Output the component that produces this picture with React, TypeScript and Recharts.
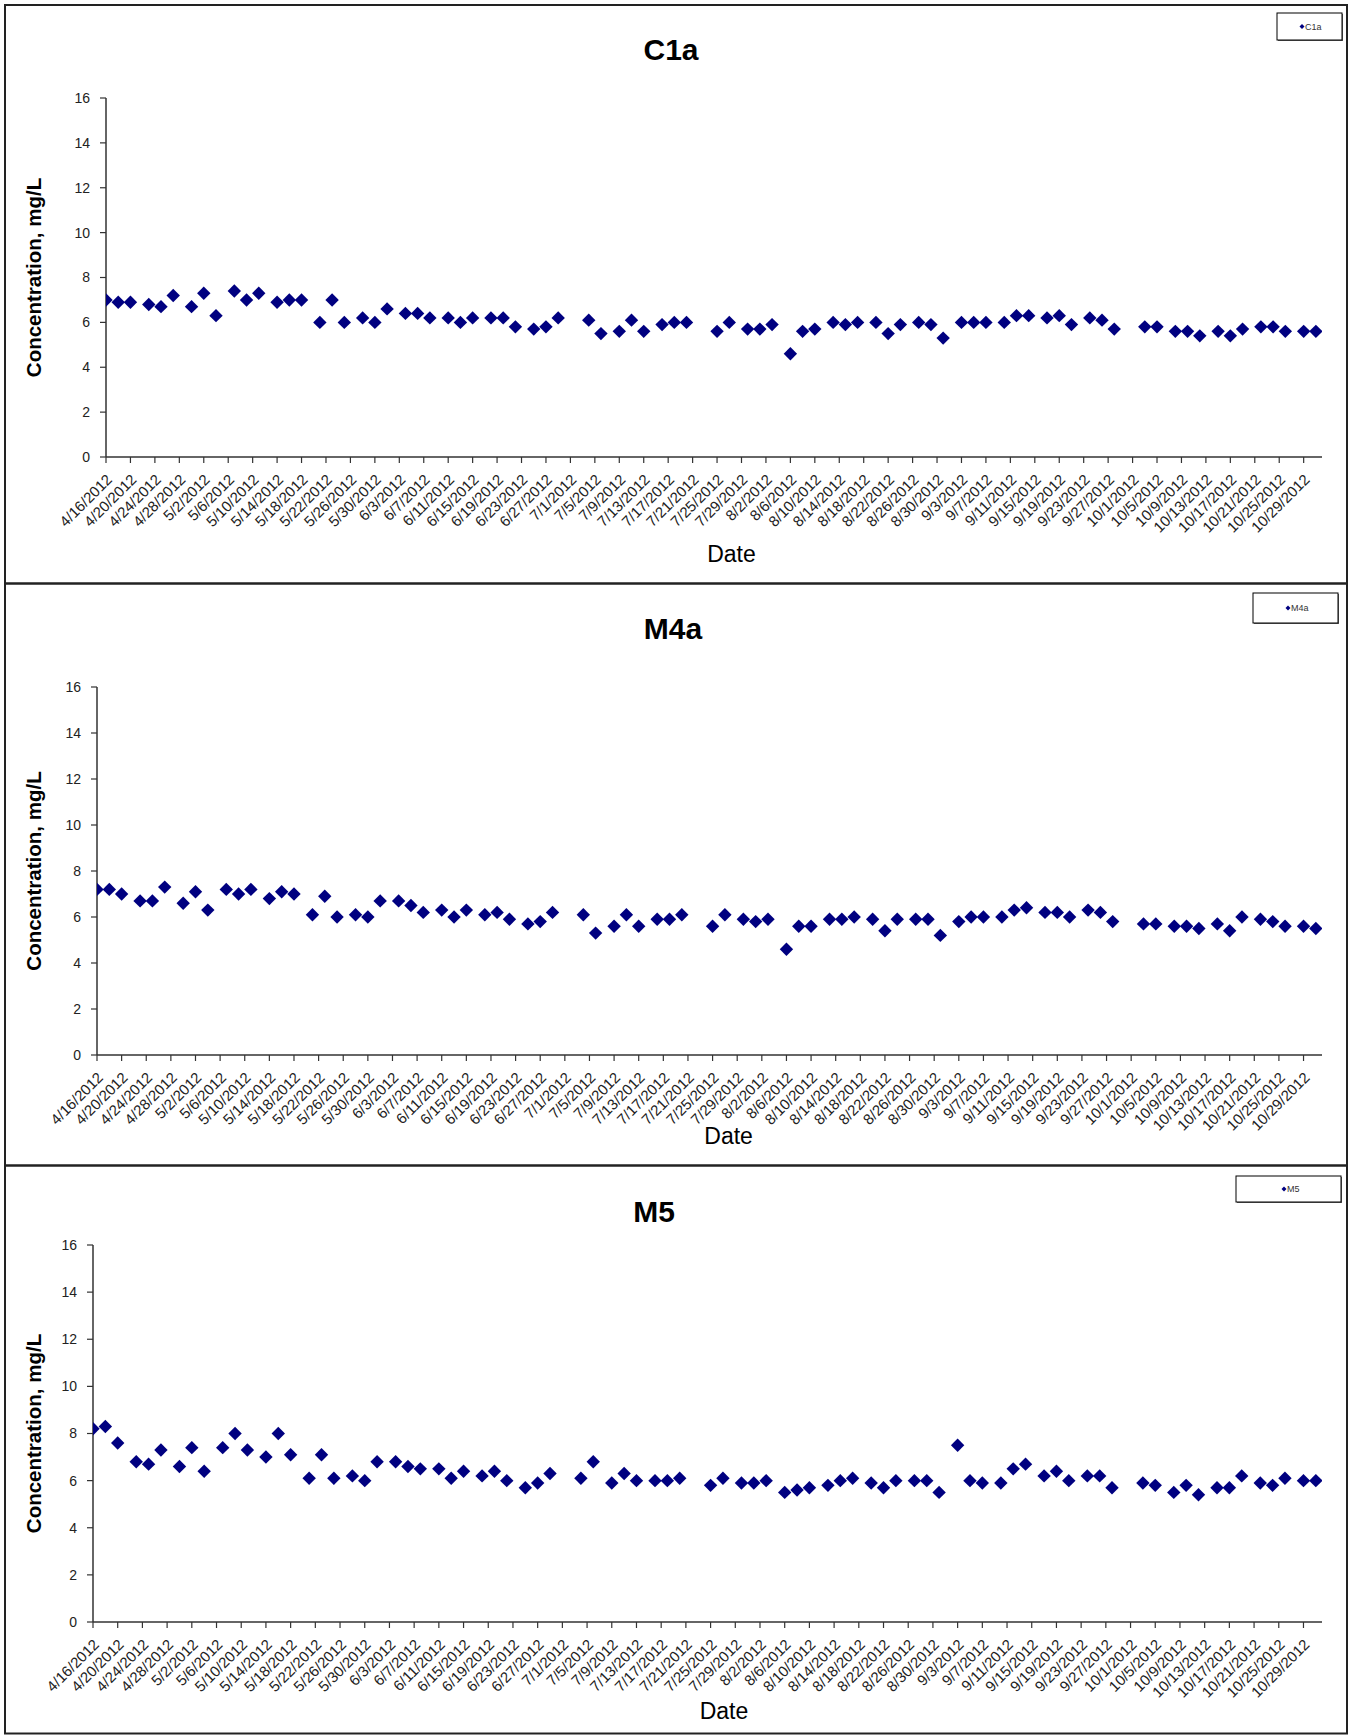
import React from "react";
import { ScatterChart, Scatter, XAxis, YAxis } from "recharts";

// ---- data ----
const sampleDates = [
  "4/16/2012", "4/18/2012", "4/20/2012", "4/23/2012", "4/25/2012", "4/27/2012",
  "4/30/2012", "5/2/2012", "5/4/2012", "5/7/2012", "5/9/2012", "5/11/2012",
  "5/14/2012", "5/16/2012", "5/18/2012", "5/21/2012", "5/23/2012", "5/25/2012",
  "5/28/2012", "5/30/2012", "6/1/2012", "6/4/2012", "6/6/2012", "6/8/2012",
  "6/11/2012", "6/13/2012", "6/15/2012", "6/18/2012", "6/20/2012", "6/22/2012",
  "6/25/2012", "6/27/2012", "6/29/2012", "7/4/2012", "7/6/2012", "7/9/2012",
  "7/11/2012", "7/13/2012", "7/16/2012", "7/18/2012", "7/20/2012", "7/25/2012",
  "7/27/2012", "7/30/2012", "8/1/2012", "8/3/2012", "8/6/2012", "8/8/2012",
  "8/10/2012", "8/13/2012", "8/15/2012", "8/17/2012", "8/20/2012", "8/22/2012",
  "8/24/2012", "8/27/2012", "8/29/2012", "8/31/2012", "9/3/2012", "9/5/2012",
  "9/7/2012", "9/10/2012", "9/12/2012", "9/14/2012", "9/17/2012", "9/19/2012",
  "9/21/2012", "9/24/2012", "9/26/2012", "9/28/2012", "10/3/2012", "10/5/2012",
  "10/8/2012", "10/10/2012", "10/12/2012", "10/15/2012", "10/17/2012", "10/19/2012",
  "10/22/2012", "10/24/2012", "10/26/2012", "10/29/2012", "10/31/2012",
];

const c1aValues = [
  7.0, 6.9, 6.9, 6.8, 6.7, 7.2, 6.7, 7.3, 6.3, 7.4, 7.0, 7.3,
  6.9, 7.0, 7.0, 6.0, 7.0, 6.0, 6.2, 6.0, 6.6, 6.4, 6.4, 6.2,
  6.2, 6.0, 6.2, 6.2, 6.2, 5.8, 5.7, 5.8, 6.2, 6.1, 5.5, 5.6,
  6.1, 5.6, 5.9, 6.0, 6.0, 5.6, 6.0, 5.7, 5.7, 5.9, 4.6, 5.6,
  5.7, 6.0, 5.9, 6.0, 6.0, 5.5, 5.9, 6.0, 5.9, 5.3, 6.0, 6.0,
  6.0, 6.0, 6.3, 6.3, 6.2, 6.3, 5.9, 6.2, 6.1, 5.7, 5.8, 5.8,
  5.6, 5.6, 5.4, 5.6, 5.4, 5.7, 5.8, 5.8, 5.6, 5.6, 5.6,
];

const m4aValues = [
  7.2, 7.2, 7.0, 6.7, 6.7, 7.3, 6.6, 7.1, 6.3, 7.2, 7.0, 7.2,
  6.8, 7.1, 7.0, 6.1, 6.9, 6.0, 6.1, 6.0, 6.7, 6.7, 6.5, 6.2,
  6.3, 6.0, 6.3, 6.1, 6.2, 5.9, 5.7, 5.8, 6.2, 6.1, 5.3, 5.6,
  6.1, 5.6, 5.9, 5.9, 6.1, 5.6, 6.1, 5.9, 5.8, 5.9, 4.6, 5.6,
  5.6, 5.9, 5.9, 6.0, 5.9, 5.4, 5.9, 5.9, 5.9, 5.2, 5.8, 6.0,
  6.0, 6.0, 6.3, 6.4, 6.2, 6.2, 6.0, 6.3, 6.2, 5.8, 5.7, 5.7,
  5.6, 5.6, 5.5, 5.7, 5.4, 6.0, 5.9, 5.8, 5.6, 5.6, 5.5,
];

const m5Values = [
  8.2, 8.3, 7.6, 6.8, 6.7, 7.3, 6.6, 7.4, 6.4, 7.4, 8.0, 7.3,
  7.0, 8.0, 7.1, 6.1, 7.1, 6.1, 6.2, 6.0, 6.8, 6.8, 6.6, 6.5,
  6.5, 6.1, 6.4, 6.2, 6.4, 6.0, 5.7, 5.9, 6.3, 6.1, 6.8, 5.9,
  6.3, 6.0, 6.0, 6.0, 6.1, 5.8, 6.1, 5.9, 5.9, 6.0, 5.5, 5.6,
  5.7, 5.8, 6.0, 6.1, 5.9, 5.7, 6.0, 6.0, 6.0, 5.5, 7.5, 6.0,
  5.9, 5.9, 6.5, 6.7, 6.2, 6.4, 6.0, 6.2, 6.2, 5.7, 5.9, 5.8,
  5.5, 5.8, 5.4, 5.7, 5.7, 6.2, 5.9, 5.8, 6.1, 6.0, 6.0,
];

const tickLabels = [
  "4/16/2012", "4/20/2012", "4/24/2012", "4/28/2012", "5/2/2012", "5/6/2012",
  "5/10/2012", "5/14/2012", "5/18/2012", "5/22/2012", "5/26/2012", "5/30/2012",
  "6/3/2012", "6/7/2012", "6/11/2012", "6/15/2012", "6/19/2012", "6/23/2012",
  "6/27/2012", "7/1/2012", "7/5/2012", "7/9/2012", "7/13/2012", "7/17/2012",
  "7/21/2012", "7/25/2012", "7/29/2012", "8/2/2012", "8/6/2012", "8/10/2012",
  "8/14/2012", "8/18/2012", "8/22/2012", "8/26/2012", "8/30/2012", "9/3/2012",
  "9/7/2012", "9/11/2012", "9/15/2012", "9/19/2012", "9/23/2012", "9/27/2012",
  "10/1/2012", "10/5/2012", "10/9/2012", "10/13/2012", "10/17/2012", "10/21/2012",
  "10/25/2012", "10/29/2012",
];

const yTicks = [0, 2, 4, 6, 8, 10, 12, 14, 16];
const axisStartDate = "4/16/2012";
const axisEndDate = "11/1/2012";

// ---- helpers ----
const dayIndex = (s: string) => {
  const [m, d, y] = s.split("/").map(Number);
  const [m0, d0, y0] = axisStartDate.split("/").map(Number);
  return Math.round((Date.UTC(y, m - 1, d) - Date.UTC(y0, m0 - 1, d0)) / 86400000);
};
const xTicks = tickLabels.map(dayIndex);
const labelByDay: Record<number, string> = {};
tickLabels.forEach((l) => (labelByDay[dayIndex(l)] = l));
const xDomain = [0, dayIndex(axisEndDate)];

const NAVY = "#000080";
const AXIS = "#333";
const FONT = "'Liberation Sans', Arial, Helvetica, sans-serif";

const Diamond = (props: any) => {
  const { cx, cy } = props;
  if (cx == null || cy == null) return null;
  const r = 6.7;
  return (
    <polygon
      points={`${cx},${cy - r} ${cx + r},${cy} ${cx},${cy + r} ${cx - r},${cy}`}
      fill={NAVY}
    />
  );
};

const XTick = (props: any) => {
  const { x, y, payload } = props;
  const bx = x + 7;
  const by = y + 15.5;
  return (
    <text
      x={bx}
      y={by}
      transform={`rotate(-45, ${bx}, ${by})`}
      textAnchor="end"
      fontSize={15}
      fill="#222"
      fontFamily={FONT}
    >
      {labelByDay[payload.value]}
    </text>
  );
};

type Panel = {
  name: string;
  values: number[];
  top: number;
  height: number;
  plotTop: number;
  plotBottom: number;
  plotLeft: number;
  titleX: number;
  titleY: number;
  yTitleX: number;
  dateX: number;
  dateY: number;
  lg: { x: number; y: number; w: number; h: number; mx: number };
};

const panels: Panel[] = [
  {
    name: "C1a", values: c1aValues, top: 0, height: 583, plotTop: 98, plotBottom: 457, plotLeft: 106,
    titleX: 671, titleY: 60, yTitleX: 33, dateX: 731.5, dateY: 561.5,
    lg: { x: 1277, y: 13, w: 65, h: 27, mx: 1302 },
  },
  {
    name: "M4a", values: m4aValues, top: 583, height: 583, plotTop: 687, plotBottom: 1055, plotLeft: 97,
    titleX: 673, titleY: 639, yTitleX: 33.5, dateX: 728.6, dateY: 1144,
    lg: { x: 1253, y: 593, w: 85, h: 30, mx: 1288 },
  },
  {
    name: "M5", values: m5Values, top: 1166, height: 569, plotTop: 1245, plotBottom: 1622, plotLeft: 93,
    titleX: 654, titleY: 1222, yTitleX: 33.5, dateX: 724, dateY: 1719,
    lg: { x: 1236, y: 1176, w: 105, h: 26, mx: 1284 },
  },
];

const Y_AXIS_W = 60;
const X_AXIS_H = 80;
const PLOT_RIGHT = 1322;
const PAGE_W = 1349;
const PAGE_H = 1735;

const PanelChart = ({ p }: { p: Panel }) => {
  const data = sampleDates.map((d, i) => ({ day: dayIndex(d), value: p.values[i] }));
  const margin = {
    top: p.plotTop - p.top,
    left: p.plotLeft - Y_AXIS_W,
    right: PAGE_W - PLOT_RIGHT,
    bottom: p.height - (p.plotBottom - p.top) - X_AXIS_H,
  };
  return (
    <div style={{ position: "absolute", left: 0, top: p.top, width: PAGE_W, height: p.height }}>
      <ScatterChart width={PAGE_W} height={p.height} margin={margin}>
        <XAxis
          type="number"
          dataKey="day"
          domain={xDomain}
          ticks={xTicks}
          interval={0}
          height={X_AXIS_H}
          axisLine={{ stroke: AXIS, strokeWidth: 1.5 }}
          tickLine={{ stroke: AXIS, strokeWidth: 1.2 }}
          tickSize={6}
          tickMargin={2}
          tick={<XTick />}
          allowDataOverflow
        />
        <YAxis
          type="number"
          dataKey="value"
          domain={[0, 16]}
          ticks={yTicks}
          interval={0}
          width={Y_AXIS_W}
          axisLine={{ stroke: AXIS, strokeWidth: 1.5 }}
          tickLine={{ stroke: AXIS, strokeWidth: 1.2 }}
          tickSize={6}
          tickMargin={10}
          tick={{ fontSize: 14, fill: "#222", fontFamily: FONT }}
          allowDataOverflow
        />
        <Scatter data={data} fill={NAVY} shape={<Diamond />} isAnimationActive={false} />
      </ScatterChart>
    </div>
  );
};

export default function App() {
  return (
    <div
      style={{
        position: "absolute",
        left: 0,
        top: 0,
        width: PAGE_W,
        height: PAGE_H,
        background: "#fff",
        fontFamily: FONT,
        overflow: "hidden",
      }}
    >
      {panels.map((p) => (
        <PanelChart key={p.name} p={p} />
      ))}
      <svg
        width={PAGE_W}
        height={PAGE_H}
        style={{ position: "absolute", left: 0, top: 0, pointerEvents: "none" }}
        fontFamily={FONT}
      >
        {/* panel frames */}
        <rect x={5} y={5} width={1342} height={578.5} fill="none" stroke="#222" strokeWidth={2} />
        <rect x={5} y={583.5} width={1342} height={582} fill="none" stroke="#222" strokeWidth={2} />
        <rect x={5} y={1165.5} width={1342} height={568} fill="none" stroke="#222" strokeWidth={2} />
        {panels.map((p) => (
          <g key={p.name}>
            <text x={p.titleX} y={p.titleY} textAnchor="middle" fontSize={30} fontWeight="bold" fill="#000">
              {p.name}
            </text>
            <text
              x={p.yTitleX}
              y={(p.plotTop + p.plotBottom) / 2}
              transform={`rotate(-90, ${p.yTitleX}, ${(p.plotTop + p.plotBottom) / 2})`}
              textAnchor="middle"
              dominantBaseline="central"
              fontSize={20.5}
              fontWeight="bold"
              fill="#000"
            >
              Concentration, mg/L
            </text>
            <text x={p.dateX} y={p.dateY} textAnchor="middle" fontSize={23} fill="#000">
              Date
            </text>
            {/* legend */}
            <rect x={p.lg.x + 1} y={p.lg.y + 1} width={p.lg.w} height={p.lg.h} fill="#666" />
            <rect x={p.lg.x} y={p.lg.y} width={p.lg.w} height={p.lg.h} fill="#fff" stroke="#000" strokeWidth={1} />
            <polygon
              points={`${p.lg.mx},${p.lg.y + p.lg.h / 2 - 2.5} ${p.lg.mx + 2.5},${p.lg.y + p.lg.h / 2} ${p.lg.mx},${p.lg.y + p.lg.h / 2 + 2.5} ${p.lg.mx - 2.5},${p.lg.y + p.lg.h / 2}`}
              fill={NAVY}
            />
            <text x={p.lg.mx + 3} y={p.lg.y + p.lg.h / 2 + 3.2} fontSize={9} fill="#333">
              {p.name}
            </text>
          </g>
        ))}
      </svg>
    </div>
  );
}
